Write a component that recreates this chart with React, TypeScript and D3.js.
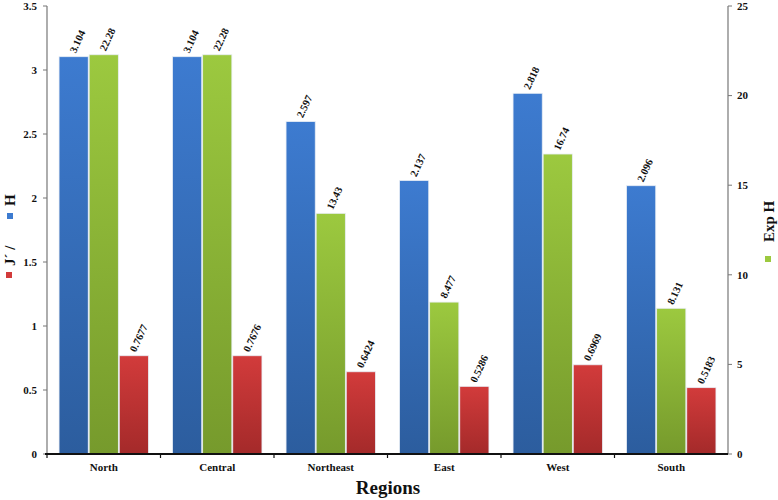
import React from "react";
import * as d3 from "d3";

const regions = ["North", "Central", "Northeast", "East", "West", "South"];
const hValues = [3.104, 3.104, 2.597, 2.137, 2.818, 2.096];
const expHValues = [22.28, 22.28, 13.43, 8.477, 16.74, 8.131];
const jValues = [0.7677, 0.7676, 0.6424, 0.5286, 0.6969, 0.5183];
const hLabels = ["3.104", "3.104", "2.597", "2.137", "2.818", "2.096"];
const expLabels = ["22.28", "22.28", "13.43", "8.477", "16.74", "8.131"];
const jLabels = ["0.7677", "0.7676", "0.6424", "0.5286", "0.6969", "0.5183"];
const leftTicks = [0, 0.5, 1, 1.5, 2, 2.5, 3, 3.5];
const rightTicks = [0, 5, 10, 15, 20, 25];

const W = 778, H = 500;
const left = 47, right = 728, top = 6, bottom = 454;
const font = "'Liberation Serif', 'Times New Roman', serif";

export default function App() {
  const x = d3.scaleBand<string>().domain(regions).range([left, right]).paddingInner(0).paddingOuter(0);
  const inner = d3.scaleBand<string>().domain(["h", "e", "j"]).range([0, x.bandwidth()]).paddingOuter(0.4).paddingInner(0.03);
  const yL = d3.scaleLinear().domain([0, 3.5]).range([bottom, top]);
  const yR = d3.scaleLinear().domain([0, 25]).range([bottom, top]);

  const series = [
    { key: "h", vals: hValues, labels: hLabels, scale: yL, grad: "gBlue" },
    { key: "e", vals: expHValues, labels: expLabels, scale: yR, grad: "gGreen" },
    { key: "j", vals: jValues, labels: jLabels, scale: yL, grad: "gRed" },
  ];

  return (
    <svg width={W} height={H} style={{ position: "absolute", left: 0, top: 0, background: "#fff" }} fontFamily={font}>
      <defs>
        <linearGradient id="gBlue" x1="0" y1="0" x2="0" y2="1">
          <stop offset="0" stopColor="#3d7bd0" />
          <stop offset="1" stopColor="#2c5d9e" />
        </linearGradient>
        <linearGradient id="gGreen" x1="0" y1="0" x2="0" y2="1">
          <stop offset="0" stopColor="#9cc93f" />
          <stop offset="1" stopColor="#769a2c" />
        </linearGradient>
        <linearGradient id="gRed" x1="0" y1="0" x2="0" y2="1">
          <stop offset="0" stopColor="#d23b3b" />
          <stop offset="1" stopColor="#a42a2a" />
        </linearGradient>
      </defs>

      {series.map((s) =>
        regions.map((r, i) => {
          const bx = (x(r) as number) + (inner(s.key) as number);
          const bw = inner.bandwidth();
          const by = s.scale(s.vals[i]);
          const cx = bx + bw / 2;
          return (
            <g key={s.key + r}>
              <rect x={bx} y={by} width={bw} height={bottom - by} fill={`url(#${s.grad})`} stroke="#e8eef5" strokeWidth={0.8} />
              <text
                transform={`translate(${cx + 2},${by - 3}) rotate(-65)`}
                fontSize={10.5}
                fontWeight="bold"
                fill="#111"
              >
                {s.labels[i]}
              </text>
            </g>
          );
        })
      )}

      <line x1={left} x2={left} y1={top} y2={bottom} stroke="#777" strokeWidth={1.2} />
      {leftTicks.map((t) => (
        <g key={"l" + t}>
          <line x1={left - 4} x2={left} y1={yL(t)} y2={yL(t)} stroke="#777" />
          <text x={left - 10} y={yL(t)} dy="0.35em" textAnchor="end" fontSize={11} fontWeight="bold" fill="#111">
            {t}
          </text>
        </g>
      ))}

      <line x1={right} x2={right} y1={top} y2={bottom} stroke="#777" strokeWidth={1.2} />
      {rightTicks.map((t) => (
        <g key={"r" + t}>
          <line x1={right} x2={right + 4} y1={yR(t)} y2={yR(t)} stroke="#777" />
          <text x={right + 9} y={yR(t)} dy="0.35em" textAnchor="start" fontSize={11} fontWeight="bold" fill="#111">
            {t}
          </text>
        </g>
      ))}

      <line x1={left - 2} x2={right} y1={bottom} y2={bottom} stroke="#111" strokeWidth={2} />
      {regions.map((r, i) => (
        <line key={"xt" + i} x1={x(r) as number} x2={x(r) as number} y1={bottom} y2={bottom + 4} stroke="#111" strokeWidth={1.2} />
      ))}
      {regions.map((r) => (
        <text key={"xl" + r} x={(x(r) as number) + x.bandwidth() / 2} y={bottom + 17} textAnchor="middle" fontSize={11} fontWeight="bold" fill="#111">
          {r}
        </text>
      ))}
      <text x={388} y={494} textAnchor="middle" fontSize={19} fontWeight="bold" fill="#111">
        Regions
      </text>

      <rect x={6} y={272} width={6} height={6} fill="#d23b3b" />
      <text transform="translate(15,266) rotate(-90)" fontSize={15} fontWeight="bold" fill="#111">
        J´ /
      </text>
      <rect x={7} y={213} width={6} height={6} fill="#3d7bd0" />
      <text transform="translate(15,206) rotate(-90)" fontSize={15} fontWeight="bold" fill="#111">
        H
      </text>

      <rect x={765} y={256} width={6} height={6} fill="#9cc93f" />
      <text transform="translate(774,242) rotate(-90)" fontSize={15} fontWeight="bold" fill="#111">
        Exp H
      </text>
    </svg>
  );
}
